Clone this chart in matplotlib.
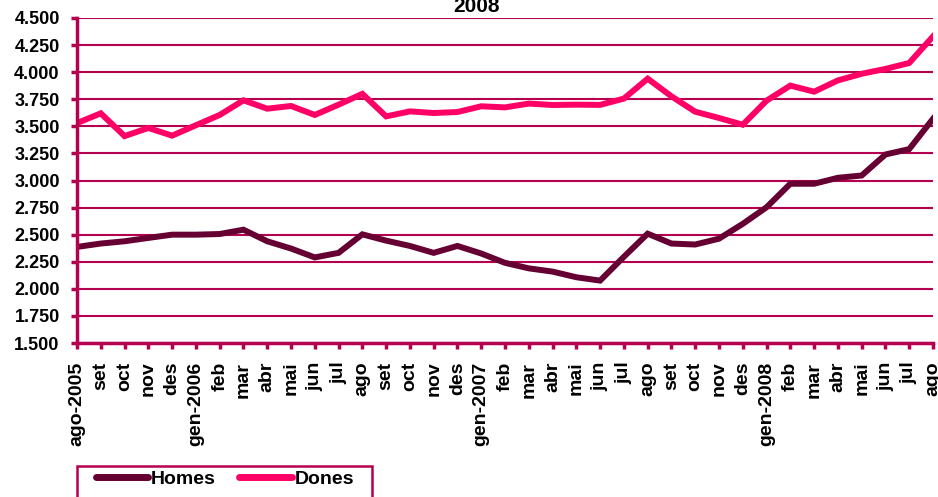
import numpy as np
import matplotlib
matplotlib.use('Agg')
import matplotlib.pyplot as plt
from matplotlib.patches import Rectangle

plt.rcParams['font.family'] = ['Liberation Sans', 'DejaVu Sans']
plt.rcParams['font.weight'] = 'bold'

# Month labels (ago-2005 .. ago-2008)
months = ['ago-2005', 'set', 'oct', 'nov', 'des',
          'gen-2006', 'feb', 'mar', 'abr', 'mai', 'jun', 'jul', 'ago', 'set', 'oct', 'nov', 'des',
          'gen-2007', 'feb', 'mar', 'abr', 'mai', 'jun', 'jul', 'ago', 'set', 'oct', 'nov', 'des',
          'gen-2008', 'feb', 'mar', 'abr', 'mai', 'jun', 'jul', 'ago']

homes = [2387, 2418, 2439, 2470, 2500,
         2500, 2506, 2546, 2439, 2372, 2290, 2332, 2503, 2445, 2396, 2332, 2396,
         2326, 2240, 2189, 2159, 2107, 2076, 2296, 2509, 2418, 2409, 2463, 2600,
         2753, 2970, 2970, 3025, 3046, 3240, 3290, 3570]

dones = [3530, 3620, 3410, 3485, 3414,
         3510, 3605, 3740, 3663, 3688, 3605, 3700, 3800, 3592, 3638, 3623, 3632,
         3685, 3675, 3710, 3697, 3700, 3698, 3756, 3940, 3777, 3635, 3577, 3515,
         3737, 3876, 3820, 3924, 3985, 4030, 4085, 4330]

crimson = '#B5004F'
W, H = 938, 497

fig = plt.figure(figsize=(W / 100, H / 100), dpi=100)
ax = fig.add_axes([77 / W, 1 - 343 / H, (933 - 77) / W, (343 - 18) / H])

x = np.arange(len(months))
ax.plot(x, homes, color='#660033', lw=4.3, solid_joinstyle='miter', label='Homes', zorder=3)
ax.plot(x, dones, color='#FF0066', lw=4.3, solid_joinstyle='miter', label='Dones', zorder=3)

ax.set_xlim(0, len(months) - 1)
ax.set_ylim(1500, 4500)
yt = np.arange(1500, 4501, 250)
ax.set_yticks(yt)
ax.set_yticklabels([f'{v:,.0f}'.replace(',', '.') for v in yt], fontsize=13, fontweight='bold')
ax.set_xticks(x)
ax.set_xticklabels(months, rotation=90, fontsize=14, fontweight='bold', va='top')

ax.grid(axis='y', color=crimson, lw=1.5, zorder=1)
ax.set_axisbelow(True)
for s in ['top', 'right']:
    ax.spines[s].set_visible(False)
for s in ['left', 'bottom']:
    ax.spines[s].set_color(crimson)
    ax.spines[s].set_linewidth(2.5)
    ax.spines[s].set_zorder(4)
ax.tick_params(axis='both', color=crimson, width=2.5, length=4.5, direction='out')
ax.tick_params(axis='x', pad=9)
ax.tick_params(axis='y', pad=8)

fig.text(476 / W, 1 - 6 / H, '2008', ha='center', va='center', fontsize=15, fontweight='bold')

# legend
leg = fig.legend(loc='center left', bbox_to_anchor=(86 / W, 1 - 479 / H), ncol=2, frameon=False,
                 prop={'size': 14, 'weight': 'bold'}, borderpad=0, handlelength=2.7,
                 handletextpad=0.15, columnspacing=1.2)
for h in leg.legend_handles:
    h.set_solid_capstyle('round')
    h.set_linewidth(5)
fig.patches.append(Rectangle((77 / W, -0.05), (372 - 77) / W, (1 - 466 / H) + 0.05,
                             transform=fig.transFigure, fill=False, edgecolor=crimson,
                             lw=1.8, clip_on=False))

fig.savefig('out.png', dpi=100)
